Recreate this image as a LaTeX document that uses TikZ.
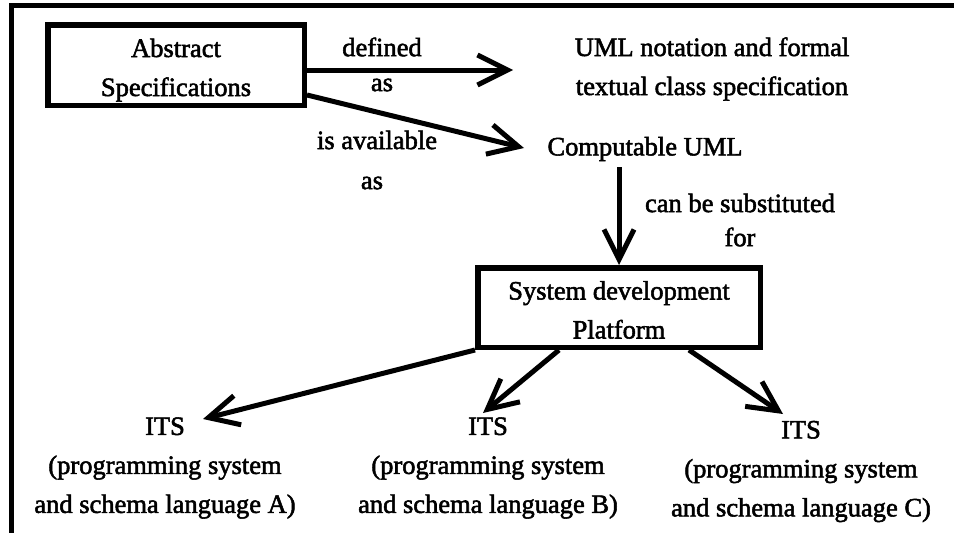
\documentclass[tikz,border=0pt]{standalone}
\usepackage{fontspec}
\setmainfont{Liberation Serif}[BoldFont=Liberation Serif, BoldFeatures={FakeBold=2}]
\usetikzlibrary{arrows.meta}
\begin{document}
\begin{tikzpicture}[x=1pt,y=-1pt,
  every node/.style={font=\fontsize{26.5}{39}\selectfont\bfseries, align=center, inner sep=0pt},
  frame/.style={line width=5.5pt, line join=miter},
  boxed/.style={draw, line width=5.5pt},
  arr/.style={line width=5pt, -{Straight Barb[length=30pt,width=30pt,line width=5pt]}},
]
\useasboundingbox (0,0) rectangle (954,533);

% open frame: top and left edges only
\draw[frame] (954,5.5) -- (11.5,5.5) -- (11.5,533);

% boxes
\node[boxed, minimum width=256.5pt, minimum height=80.5pt, text height=64pt, text depth=2pt] (abs) at (176,65) {Abstract\\Specifications};
\node[boxed, minimum width=282.5pt, minimum height=79.5pt, text height=63pt, text depth=1pt] (sys) at (619,307.5) {System development\\Platform};

% plain text nodes
\node (uml) at (712,69) {UML notation and formal\\textual class specification};
\node (comp) at (645,149) {Computable UML};
\node (itsA) at (165,468) {ITS\\(programming system\\and schema language A)};
\node (itsB) at (488,468) {ITS\\(programming system\\and schema language B)};
\node (itsC) at (801,471.5) {ITS\\(programming system\\and schema language C)};

% connector ends
\coordinate (t1) at (513,70);
\coordinate (t2) at (524,148);
\coordinate (tA) at (203,419);
\coordinate (tB) at (483,413);
\coordinate (tC) at (783,414);

% connectors
\draw[arr] (abs.east |- t1) -- (t1);
\draw[arr] ([yshift=-30pt]abs.east) -- (t2);
\draw[arr] (sys.north |- comp.south) ++(0,6) -- (sys.north);
\draw[arr] (sys.south west) -- (tA);
\draw[arr] ([xshift=-60pt]sys.south) -- (tB);
\draw[arr] ([xshift=70pt]sys.south) -- (tC);

% connector labels
\node (l1) at (382,47) {defined};
\node (l1b) at (382,85) {as};
\node (l2) at (377,140) {is available};
\node (l2b) at (372,183) {as};
\node (l3) at (740,203) {can be substituted};
\node (l3b) at (740,237) {for};
\end{tikzpicture}
\end{document}
